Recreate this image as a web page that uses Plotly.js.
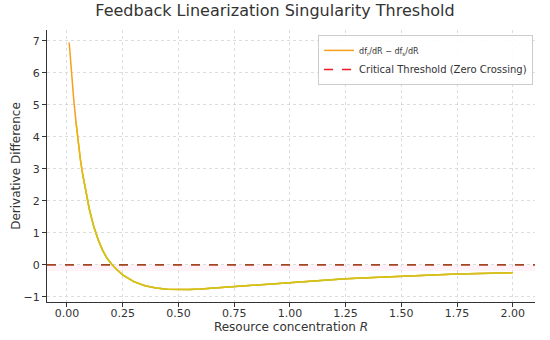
<!DOCTYPE html>
<html>
<head>
<meta charset="utf-8">
<script src="https://cdn.plot.ly/plotly-3.0.1.min.js"></script>
<style>html,body{margin:0;padding:0;background:#fff}#chart{width:550px;height:340px}</style>
</head>
<body>
<div id="chart"></div>
<script>
// Data
const R = [0.01,0.02,0.03,0.04,0.05,0.06,0.07,0.08,0.09,0.10,0.12,0.14,0.16,0.18,0.20,0.22,0.25,0.30,0.35,0.40,0.45,0.50,0.55,0.60,0.70,0.80,0.90,1.00,1.10,1.25,1.40,1.50,1.60,1.75,1.90,2.00];
const diff = [6.95,6.0,5.2,4.5,3.85,3.3,2.85,2.45,2.08,1.75,1.2,0.78,0.45,0.2,0.02,-0.13,-0.32,-0.53,-0.66,-0.73,-0.77,-0.78,-0.775,-0.76,-0.71,-0.66,-0.60,-0.55,-0.51,-0.44,-0.39,-0.355,-0.325,-0.29,-0.265,-0.25];
const threshold = 0;
const bandLow = -0.2;
const xTicks = [0,0.25,0.5,0.75,1.0,1.25,1.5,1.75,2.0];
const yTicks = [-1,0,1,2,3,4,5,6,7];
const seriesName = "<span style='font-size:8px'>df<sub>r</sub>/dR − df<sub>s</sub>/dR</span>";
const thresholdName = "Critical Threshold (Zero Crossing)";

// segments for colour blend (orange -> yellow)
const midStart = diff.findIndex(v => v < 4.6);
const lowStart = diff.findIndex(v => v < 2.9);

const traces = [
  {x: R, y: diff, mode: 'lines', name: seriesName, line: {color: '#f5a01e', width: 1.5}},
  {x: R.slice(midStart), y: diff.slice(midStart), mode: 'lines', showlegend: false, hoverinfo: 'skip', line: {color: '#e8b812', width: 1.5}},
  {x: R.slice(lowStart), y: diff.slice(lowStart), mode: 'lines', showlegend: false, hoverinfo: 'skip', line: {color: '#cfc41c', width: 1.5}}
];

const layout = {
  width: 550, height: 340,
  margin: {l: 47, r: 15, t: 30, b: 38},
  paper_bgcolor: '#fff', plot_bgcolor: '#fff',
  font: {family: 'DejaVu Sans, sans-serif', color: '#333', size: 11},
  title: {text: 'Feedback Linearization Singularity Threshold', font: {size: 16, color: '#333'}, x: 0.5, xanchor: 'center', y: 0.985, yanchor: 'top'},
  xaxis: {
    range: [-0.0895, 2.0995], tickvals: xTicks, tickformat: '.2f',
    showgrid: true, gridcolor: '#d4d4d4', griddash: 'dot', gridwidth: 0.8,
    showline: true, linecolor: '#333', linewidth: 1, ticks: 'outside', ticklen: 4, tickcolor: '#333',
    ticklabelstandoff: -3,
    zeroline: false, mirror: false,
    title: {text: 'Resource concentration <i>R</i>', font: {size: 12, color: '#333'}, standoff: 0}
  },
  yaxis: {
    range: [-1.167, 7.34], tickvals: yTicks,
    showgrid: true, gridcolor: '#d4d4d4', griddash: 'dot', gridwidth: 0.8,
    showline: true, linecolor: '#333', linewidth: 1, ticks: 'outside', ticklen: 4, tickcolor: '#333',
    zeroline: false,
    title: {text: 'Derivative Difference', font: {size: 12, color: '#333'}, standoff: 0}
  },
  shapes: [
    {type: 'rect', xref: 'paper', x0: 0, x1: 1, yref: 'y', y0: bandLow, y1: threshold, fillcolor: 'rgba(255,80,150,0.07)', line: {width: 0}, layer: 'below'},
    {type: 'line', xref: 'paper', x0: 0, x1: 1, yref: 'y', y0: threshold, y1: threshold, line: {color: '#f01a24', width: 1.5, dash: 'dash'}, showlegend: true, name: thresholdName},
    {type: 'line', xref: 'paper', x0: 0, x1: 1, yref: 'y', y0: threshold, y1: threshold, line: {color: '#9a4a22', width: 1.5, dash: 'dash'}}
  ],
  legend: {
    x: 0.996, xanchor: 'right', y: 0.982, yanchor: 'top',
    bgcolor: 'rgba(255,255,255,0.9)', bordercolor: '#cccccc', borderwidth: 1,
    font: {size: 10, color: '#333'}, itemwidth: 30, tracegroupgap: 0
  },
  showlegend: true
};

Plotly.newPlot('chart', traces, layout, {displayModeBar: false, staticPlot: true});
</script>
</body>
</html>
